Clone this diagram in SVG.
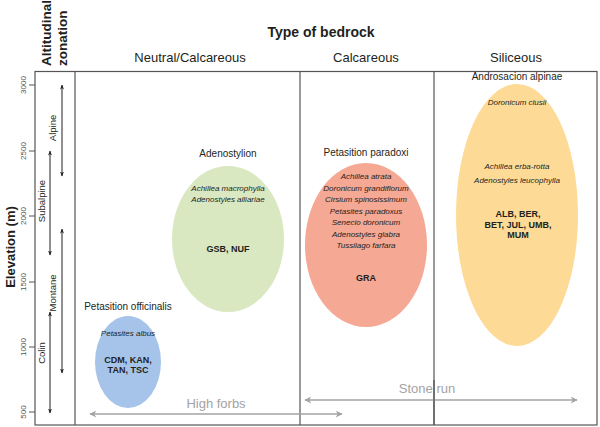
<svg xmlns="http://www.w3.org/2000/svg" width="600" height="427" viewBox="0 0 600 427">
<defs>
<style>
text{font-family:"Liberation Sans",Arial,sans-serif;fill:#231f20}
.b{font-weight:bold}
.hdr{font-size:13px}
.tick{font-size:8px;fill:#555}
.zone{font-size:9.5px}
.assoc{font-size:10px}
.sp{font-size:8px;font-style:italic}
.code{font-size:9px;font-weight:bold}
.frame{fill:none;stroke:#555;stroke-width:1.2}
.zarr{stroke:#231f20;stroke-width:1;fill:none}
.garr{stroke:#a3a3a3;stroke-width:1.5;fill:none}
.gtxt{font-size:13px;fill:#a3a3a3}
</style>
<marker id="ah" viewBox="0 0 10 10" refX="9" refY="5" markerWidth="5" markerHeight="5" orient="auto-start-reverse">
<path d="M0,1 L10,5 L0,9 L3,5 Z" fill="#231f20"/>
</marker>
<marker id="gh" viewBox="0 0 10 10" refX="9" refY="5" markerWidth="9" markerHeight="7" markerUnits="userSpaceOnUse" orient="auto-start-reverse">
<path d="M0,0 L10,5 L0,10 L3,5 Z" fill="#a3a3a3"/>
</marker>
</defs>
<rect width="600" height="427" fill="#fff"/>

<g id="titles">
<text class="b" font-size="14" x="321" y="37" text-anchor="middle">Type of bedrock</text>
<text class="hdr" x="190" y="62" text-anchor="middle">Neutral/Calcareous</text>
<text class="hdr" x="366" y="62" text-anchor="middle">Calcareous</text>
<text class="hdr" x="516" y="62" text-anchor="middle">Siliceous</text>
<text class="b" font-size="13.5" transform="translate(51,66) rotate(-90)">Altitudinal</text>
<text class="b" font-size="13.5" transform="translate(67,66) rotate(-90)">zonation</text>
<text class="b" font-size="13" transform="translate(15,247) rotate(-90)" text-anchor="middle">Elevation (m)</text>
</g>

<g id="frame">
<rect class="frame" x="35" y="71.5" width="562" height="353.5"/>
<line class="frame" x1="75" y1="71.5" x2="75" y2="425"/>
<line class="frame" x1="300" y1="71.5" x2="300" y2="425"/>
<line class="frame" x1="434" y1="71.5" x2="434" y2="425"/>
</g>

<g id="axis">
<g stroke="#555" stroke-width="1">
<line x1="29" y1="85" x2="35" y2="85"/>
<line x1="29" y1="151" x2="35" y2="151"/>
<line x1="29" y1="216" x2="35" y2="216"/>
<line x1="29" y1="282" x2="35" y2="282"/>
<line x1="29" y1="347" x2="35" y2="347"/>
<line x1="29" y1="412" x2="35" y2="412"/>
</g>
<text class="tick" text-anchor="middle" transform="translate(26,85) rotate(-90)">3000</text>
<text class="tick" text-anchor="middle" transform="translate(26,151) rotate(-90)">2500</text>
<text class="tick" text-anchor="middle" transform="translate(26,216) rotate(-90)">2000</text>
<text class="tick" text-anchor="middle" transform="translate(26,282) rotate(-90)">1500</text>
<text class="tick" text-anchor="middle" transform="translate(26,347) rotate(-90)">1000</text>
<text class="tick" text-anchor="middle" transform="translate(26,412) rotate(-90)">500</text>
</g>

<g id="zones">
<line class="zarr" x1="62" y1="85" x2="62" y2="176" marker-start="url(#ah)" marker-end="url(#ah)"/>
<text class="zone" text-anchor="middle" transform="translate(56,128) rotate(-90)">Alpine</text>
<line class="zarr" x1="50" y1="151" x2="50" y2="255" marker-start="url(#ah)" marker-end="url(#ah)"/>
<text class="zone" text-anchor="middle" transform="translate(45,201) rotate(-90)">Subalpine</text>
<line class="zarr" x1="62" y1="229" x2="62" y2="373" marker-start="url(#ah)" marker-end="url(#ah)"/>
<text class="zone" text-anchor="middle" transform="translate(56,293) rotate(-90)">Montane</text>
<line class="zarr" x1="50" y1="312" x2="50" y2="413" marker-start="url(#ah)" marker-end="url(#ah)"/>
<text class="zone" text-anchor="middle" transform="translate(45,353) rotate(-90)">Colin</text>
</g>

<g id="petasition-officinalis">
<ellipse cx="128" cy="362" rx="33" ry="46" fill="#a6c4e9"/>
<text class="assoc" x="128" y="310" text-anchor="middle">Petasition officinalis</text>
<text class="sp" x="128" y="336" text-anchor="middle">Petasites albus</text>
<text class="code" x="128" y="363" text-anchor="middle">CDM, KAN,</text>
<text class="code" x="128" y="373" text-anchor="middle">TAN, TSC</text>
</g>

<g id="adenostylion">
<ellipse cx="228" cy="239" rx="56" ry="73" fill="#d9e8c0"/>
<text class="assoc" x="228" y="157" text-anchor="middle">Adenostylion</text>
<text class="sp" x="228" y="191" text-anchor="middle">Achillea macrophylla</text>
<text class="sp" x="228" y="202" text-anchor="middle">Adenostyles alliariae</text>
<text class="code" x="228" y="252" text-anchor="middle">GSB, NUF</text>
</g>

<g id="petasition-paradoxi">
<ellipse cx="366" cy="245" rx="61" ry="82" fill="#f5a894"/>
<text class="assoc" x="366" y="156" text-anchor="middle">Petasition paradoxi</text>
<text class="sp" x="366" y="179" text-anchor="middle">Achillea atrata</text>
<text class="sp" x="366" y="190.5" text-anchor="middle">Doronicum grandiflorum</text>
<text class="sp" x="366" y="202" text-anchor="middle">Cirsium spinosissimum</text>
<text class="sp" x="366" y="213.5" text-anchor="middle">Petasites paradoxus</text>
<text class="sp" x="366" y="225" text-anchor="middle">Senecio doronicum</text>
<text class="sp" x="366" y="236.5" text-anchor="middle">Adenostyles glabra</text>
<text class="sp" x="366" y="248" text-anchor="middle">Tussilago farfara</text>
<text class="code" x="366" y="281" text-anchor="middle">GRA</text>
</g>

<g id="androsacion-alpinae">
<ellipse cx="517" cy="215" rx="61" ry="131" fill="#fddb96"/>
<text class="assoc" x="517" y="80" text-anchor="middle">Androsacion alpinae</text>
<text class="sp" x="517" y="105" text-anchor="middle">Doronicum clusii</text>
<text class="sp" x="517" y="169" text-anchor="middle">Achillea erba-rotta</text>
<text class="sp" x="517" y="183" text-anchor="middle">Adenostyles leucophylla</text>
<text class="code" x="518" y="217" text-anchor="middle">ALB, BER,</text>
<text class="code" x="518" y="227.5" text-anchor="middle">BET, JUL, UMB,</text>
<text class="code" x="518" y="238" text-anchor="middle">MUM</text>
</g>

<g id="connectors">
<line class="garr" x1="90" y1="414" x2="342" y2="414" marker-start="url(#gh)" marker-end="url(#gh)"/>
<text class="gtxt" x="216" y="408" text-anchor="middle">High forbs</text>
<line class="garr" x1="305" y1="400" x2="577" y2="400" marker-start="url(#gh)" marker-end="url(#gh)"/>
<text class="gtxt" x="427" y="393" text-anchor="middle">Stone run</text>
<line class="frame" x1="434" y1="380" x2="434" y2="425"/>
</g>
</svg>
